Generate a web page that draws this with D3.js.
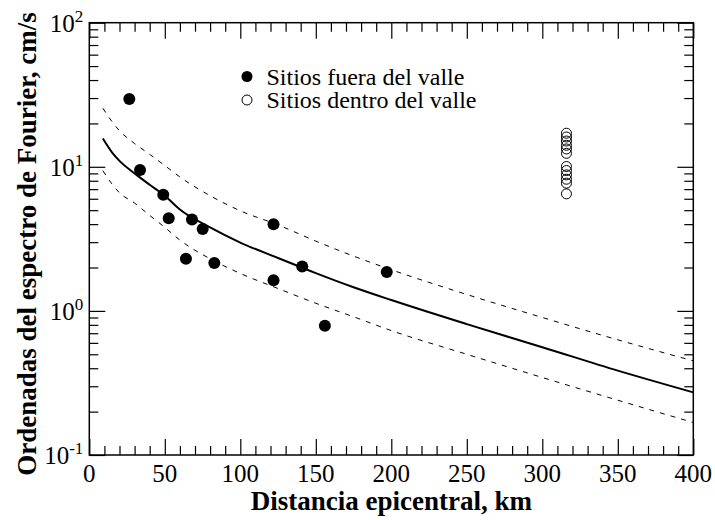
<!DOCTYPE html>
<html>
<head>
<meta charset="utf-8">
<script src="https://cdn.jsdelivr.net/npm/d3@7"></script>
<style>
	body { margin: 0; background: #fff; }
	text { font-family: "Liberation Serif", "Times New Roman", serif; fill: #000; }
</style>
</head>
<body>
<svg id="chart" width="715" height="520"></svg>
<script>
// Ticks
var xTicks = [0, 50, 100, 150, 200, 250, 300, 350, 400];
var yTicks = [0.1, 1, 10, 100];
var yExponents = ["-1", "0", "1", "2"];

// Sitios fuera del valle (distancia km, ordenada cm/s)
var fueraDist = [26.5, 33.6, 49, 52.6, 68, 75.1, 64, 82.8, 122, 122, 141, 197, 156];
var fueraAmp = [29.6, 9.5, 6.4, 4.4, 4.3, 3.7, 2.3, 2.15, 4.0, 1.63, 2.03, 1.86, 0.79];

// Sitios dentro del valle
var dentroDist = [316, 316, 316, 316, 316, 316, 316, 316, 316, 316, 316, 316];
var dentroAmp = [17.1, 16.1, 15.1, 14.1, 13.3, 12.4, 10.05, 9.42, 8.79, 8.2, 7.7, 6.49];

// Curvas: media y media +/- una desviacion
var curveDist = [9, 15, 20, 30, 40, 50, 60, 80, 100, 125, 150, 175, 200, 250, 300, 350, 400];
var curveMedia = [15.7, 12.6, 11.0, 9.0, 7.5, 6.3, 5.05, 3.8, 2.98, 2.33, 1.83, 1.46, 1.19, 0.81, 0.56, 0.385, 0.272];
var curveSup = [25.5, 20.6, 17.8, 14.5, 12.2, 10.2, 8.5, 6.3, 4.95, 3.95, 3.05, 2.4, 1.93, 1.3, 0.9, 0.63, 0.45];
var curveInf = [9.4, 7.6, 6.6, 5.6, 4.6, 3.8, 3.1, 2.3, 1.82, 1.43, 1.13, 0.91, 0.73, 0.5, 0.345, 0.24, 0.168];

var plotLeft = 89.3, plotRight = 693.3, plotTop = 22.7, plotBottom = 455;

var svg = d3.select("#chart");

var x = d3.scaleLinear().domain([0, 400]).range([plotLeft, plotRight]);
var y = d3.scaleLog().domain([0.1, 100]).range([plotBottom, plotTop]);

var xMinor = d3.range(0, 401, 10).filter(function(d) { return d % 50 !== 0; });
var yMinor = [];
[0.1, 1, 10].forEach(function(dec) {
	for (var k = 2; k <= 9; k++) yMinor.push(dec * k);
});

function ticks(axisFn, scale, values, size, transform) {
	var g = svg.append("g")
		.attr("transform", transform)
		.call(axisFn(scale).tickValues(values).tickSize(size).tickFormat(""));
	g.select(".domain").remove();
	g.selectAll("line").attr("stroke", "#000").attr("stroke-width", 1.2);
}

// Inward ticks on all four sides
ticks(d3.axisBottom, x, xTicks, -16, "translate(0," + plotBottom + ")");
ticks(d3.axisBottom, x, xMinor, -9, "translate(0," + plotBottom + ")");
ticks(d3.axisTop, x, xTicks, -16, "translate(0," + plotTop + ")");
ticks(d3.axisTop, x, xMinor, -9, "translate(0," + plotTop + ")");
ticks(d3.axisLeft, y, yTicks, -16, "translate(" + plotLeft + ",0)");
ticks(d3.axisLeft, y, yMinor, -9, "translate(" + plotLeft + ",0)");
ticks(d3.axisRight, y, yTicks, -16, "translate(" + plotRight + ",0)");
ticks(d3.axisRight, y, yMinor, -9, "translate(" + plotRight + ",0)");

// Frame
svg.append("rect")
	.attr("x", plotLeft).attr("y", plotTop)
	.attr("width", plotRight - plotLeft).attr("height", plotBottom - plotTop)
	.attr("fill", "none").attr("stroke", "#000").attr("stroke-width", 1.5);

// X tick labels
svg.append("g").selectAll("text")
	.data(xTicks)
	.enter()
	.append("text")
	.attr("x", function(d) { return x(d); })
	.attr("y", plotBottom + 27)
	.attr("text-anchor", "middle")
	.style("font-size", "25px")
	.text(function(d) { return d; });

// Y tick labels 10^n
var yLab = svg.append("g").selectAll("text")
	.data(yTicks)
	.enter()
	.append("text")
	.attr("x", plotLeft - 6)
	.attr("y", function(d) { return y(d) + 9; })
	.attr("text-anchor", "end")
	.style("font-size", "25px");
yLab.append("tspan").text("10");
yLab.append("tspan")
	.attr("dy", -10)
	.style("font-size", "17px")
	.text(function(d, i) { return yExponents[i]; });

// Axis titles
svg.append("text")
	.attr("x", (plotLeft + plotRight) / 2)
	.attr("y", 510)
	.attr("text-anchor", "middle")
	.style("font-size", "27px")
	.style("font-weight", "bold")
	.text("Distancia epicentral, km");

svg.append("text")
	.attr("transform", "translate(36,244) rotate(-90)")
	.attr("text-anchor", "middle")
	.style("font-size", "27px")
	.style("font-weight", "bold")
	.text("Ordenadas del espectro de Fourier, cm/s");

// Curves
var line = d3.line()
	.curve(d3.curveMonotoneX)
	.x(function(d) { return x(d[0]); })
	.y(function(d) { return y(d[1]); });

function drawCurve(values, width, dash) {
	svg.append("path")
		.datum(d3.zip(curveDist, values))
		.attr("d", line)
		.attr("fill", "none")
		.attr("stroke", "#000")
		.attr("stroke-width", width)
		.attr("stroke-dasharray", dash);
}

drawCurve(curveSup, 1, "5,6");
drawCurve(curveInf, 1, "5,6");
drawCurve(curveMedia, 2, null);

// Points
svg.append("g").selectAll("circle")
	.data(d3.zip(fueraDist, fueraAmp))
	.enter()
	.append("circle")
	.attr("cx", function(d) { return x(d[0]); })
	.attr("cy", function(d) { return y(d[1]); })
	.attr("r", 6)
	.attr("fill", "#000");

svg.append("g").selectAll("circle")
	.data(d3.zip(dentroDist, dentroAmp))
	.enter()
	.append("circle")
	.attr("cx", function(d) { return x(d[0]); })
	.attr("cy", function(d) { return y(d[1]); })
	.attr("r", 5)
	.attr("fill", "none")
	.attr("stroke", "#000")
	.attr("stroke-width", 1);

// Legend
var legend = svg.append("g");
legend.append("circle").attr("cx", 247).attr("cy", 76.5).attr("r", 5.5).attr("fill", "#000");
legend.append("circle").attr("cx", 247).attr("cy", 100).attr("r", 5)
	.attr("fill", "none").attr("stroke", "#000").attr("stroke-width", 1);
legend.append("text").attr("x", 266.5).attr("y", 84.5).style("font-size", "24px").text("Sitios fuera del valle");
legend.append("text").attr("x", 266.5).attr("y", 108).style("font-size", "24px").text("Sitios dentro del valle");
</script>
</body>
</html>
